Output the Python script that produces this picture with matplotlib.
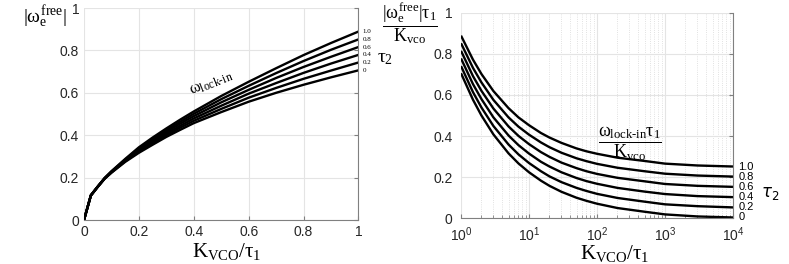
import matplotlib
matplotlib.use('Agg')
import matplotlib.pyplot as plt
from matplotlib.ticker import LogLocator, NullFormatter

# tau2 values shown next to the curves
tau2_labels = ['0', '0.2', '0.4', '0.6', '0.8', '1.0']

# left panel: |w_e^free| vs K_vco/tau1 (linear axis)
x_lin = [0, 0.025, 0.05, 0.075, 0.1, 0.15, 0.2, 0.25, 0.3, 0.35, 0.4, 0.5, 0.6, 0.7, 0.8, 0.9, 1.0]
lin_t00 = [0, 0.115, 0.156, 0.194, 0.223, 0.274, 0.317, 0.355, 0.392, 0.425, 0.457, 0.509, 0.558, 0.600, 0.638, 0.673, 0.706]
lin_t02 = [0, 0.115, 0.156, 0.195, 0.224, 0.277, 0.322, 0.362, 0.400, 0.435, 0.468, 0.524, 0.577, 0.623, 0.666, 0.705, 0.743]
lin_t04 = [0, 0.116, 0.157, 0.196, 0.226, 0.280, 0.327, 0.369, 0.408, 0.444, 0.479, 0.539, 0.596, 0.646, 0.694, 0.738, 0.779]
lin_t06 = [0, 0.116, 0.157, 0.196, 0.227, 0.282, 0.333, 0.375, 0.416, 0.454, 0.490, 0.555, 0.614, 0.670, 0.722, 0.770, 0.816]
lin_t08 = [0, 0.117, 0.158, 0.197, 0.229, 0.285, 0.338, 0.382, 0.424, 0.463, 0.501, 0.570, 0.633, 0.693, 0.750, 0.803, 0.852]
lin_t10 = [0, 0.117, 0.158, 0.198, 0.230, 0.288, 0.343, 0.389, 0.432, 0.473, 0.512, 0.585, 0.652, 0.716, 0.778, 0.835, 0.889]

# right panel: |w_e^free| tau1 / K_vco vs K_vco/tau1 (log axis)
x_log = [1, 1.5, 2, 3, 5, 7, 10, 15, 20, 30, 50, 70, 100, 200, 500, 1000, 3000, 10000]
log_t00 = [0.706, 0.577, 0.500, 0.408, 0.316, 0.267, 0.224, 0.183, 0.158, 0.129, 0.100, 0.085, 0.071, 0.050, 0.032, 0.019, 0.009, 0.004]
log_t02 = [0.741, 0.614, 0.539, 0.449, 0.359, 0.311, 0.269, 0.229, 0.204, 0.176, 0.148, 0.133, 0.119, 0.099, 0.081, 0.068, 0.059, 0.053]
log_t04 = [0.778, 0.653, 0.580, 0.491, 0.403, 0.356, 0.315, 0.275, 0.252, 0.224, 0.196, 0.181, 0.168, 0.148, 0.130, 0.118, 0.108, 0.103]
log_t06 = [0.815, 0.692, 0.620, 0.534, 0.447, 0.401, 0.361, 0.322, 0.299, 0.271, 0.244, 0.229, 0.216, 0.197, 0.180, 0.167, 0.158, 0.153]
log_t08 = [0.852, 0.732, 0.661, 0.576, 0.491, 0.446, 0.407, 0.369, 0.346, 0.319, 0.292, 0.278, 0.265, 0.246, 0.229, 0.217, 0.208, 0.203]
log_t10 = [0.889, 0.772, 0.702, 0.619, 0.536, 0.491, 0.453, 0.415, 0.393, 0.367, 0.340, 0.326, 0.314, 0.295, 0.279, 0.266, 0.257, 0.252]

lin_curves = [lin_t00, lin_t02, lin_t04, lin_t06, lin_t08, lin_t10]
log_curves = [log_t00, log_t02, log_t04, log_t06, log_t08, log_t10]

plt.rcParams['font.family'] = ['Liberation Sans', 'DejaVu Sans']
# upright Times-like math for the formula labels
plt.rcParams['mathtext.fontset'] = 'custom'
plt.rcParams['mathtext.rm'] = 'Liberation Serif'
plt.rcParams['mathtext.it'] = 'Liberation Serif'
plt.rcParams['mathtext.bf'] = 'Liberation Serif:bold'

W, H = 789, 264
fig = plt.figure(figsize=(W / 100, H / 100), dpi=100)


def px(x, y):
    return x / W, 1 - y / H


def style_axes(ax):
    ax.grid(True, which='major', color='#e4e4e4', lw=0.8)
    ax.set_axisbelow(True)
    for s in ['left', 'top']:
        ax.spines[s].set_visible(False)
    for s in ['right', 'bottom']:
        ax.spines[s].set_color('#808080')
        ax.spines[s].set_linewidth(0.8)
    ax.tick_params(which='both', direction='in', colors='#808080', labelcolor='#262626',
                   labelsize=10, left=False, right=True, top=False, bottom=True,
                   labelleft=True, labelright=False, length=3)
    ax.set_ylim(0, 1)
    ax.set_yticks([0, 0.2, 0.4, 0.6, 0.8, 1])
    ax.set_yticklabels(['0', '0.2', '0.4', '0.6', '0.8', '1'])


# ---- left panel
ax1 = fig.add_axes([84 / W, 1 - 220 / H, 274.5 / W, 212 / H])
for c in lin_curves:
    ax1.plot(x_lin, c, color='black', lw=1.7, solid_capstyle='butt')
ax1.set_xlim(0, 1)
ax1.set_xticks([0, 0.2, 0.4, 0.6, 0.8, 1])
ax1.set_xticklabels(['0', '0.2', '0.4', '0.6', '0.8', '1'])
style_axes(ax1)
for lab, c in zip(tau2_labels, lin_curves):
    ax1.annotate(lab, (1, c[-1]), xytext=(3, 0), textcoords='offset points',
                 fontsize=5, family='Liberation Serif', va='center', ha='left',
                 annotation_clip=False)

# ---- right panel
ax2 = fig.add_axes([461 / W, 1 - 218.3 / H, 272 / W, 205.5 / H])
for c in log_curves:
    ax2.plot(x_log, c, color='black', lw=1.7, solid_capstyle='butt')
ax2.set_xscale('log')
ax2.set_xlim(1, 1e4)
ax2.xaxis.set_major_locator(LogLocator(base=10, numticks=10))
ax2.xaxis.set_minor_locator(LogLocator(base=10, subs=range(2, 10), numticks=50))
ax2.xaxis.set_minor_formatter(NullFormatter())
ax2.grid(True, which='minor', axis='x', color='#d8d8d8', lw=0.6, ls=':')
style_axes(ax2)
ax2.tick_params(which='minor', length=2)
ax2.tick_params(axis='y', pad=6)
ax2.tick_params(axis='x', pad=5)
ax2.set_xticks([1, 10, 100, 1000, 10000])
ax2.set_xticklabels([r'$\mathdefault{10^{0}}$', r'$\mathdefault{10^{1}}$', r'$\mathdefault{10^{2}}$',
                     r'$\mathdefault{10^{3}}$', r'$\mathdefault{10^{4}}$'])
for lab, c in zip(tau2_labels, log_curves):
    ax2.annotate(lab, (1e4, c[-1]), xytext=(4, 0), textcoords='offset points',
                 fontsize=8, va='center', ha='left', annotation_clip=False)

# ---- labels and annotations
fig.text(*px(45, 17), r'$|\omega_{\rm e}^{\rm free}|$', fontsize=14, ha='center', va='center')
fig.text(*px(410, 23), r'$\dfrac{|\omega_{\rm e}^{\rm free}|\tau_1}{\rm K_{vco}}$', fontsize=13,
         ha='center', va='center')
fig.text(*px(385, 58), r'$\tau_2$', fontsize=14, ha='center', va='center')
fig.text(*px(770, 194), r'$\tau_2$', fontsize=12, ha='center', va='center',
         math_fontfamily='dejavusans')
fig.text(*px(211, 83), r'$\omega_{\rm lock\text{-}in}$', fontsize=12, ha='center',
         va='center', rotation=22)
fig.text(*px(630, 144), r'$\dfrac{\omega_{\rm lock\text{-}in}\tau_1}{\rm K_{vco}}$', fontsize=13,
         ha='center', va='center')
fig.text(*px(227, 251), r'$\rm K_{VCO}/\tau_1$', fontsize=15, ha='center', va='center')
fig.text(*px(615, 254), r'$\rm K_{VCO}/\tau_1$', fontsize=15, ha='center', va='center')

fig.savefig('out.png', dpi=100)
